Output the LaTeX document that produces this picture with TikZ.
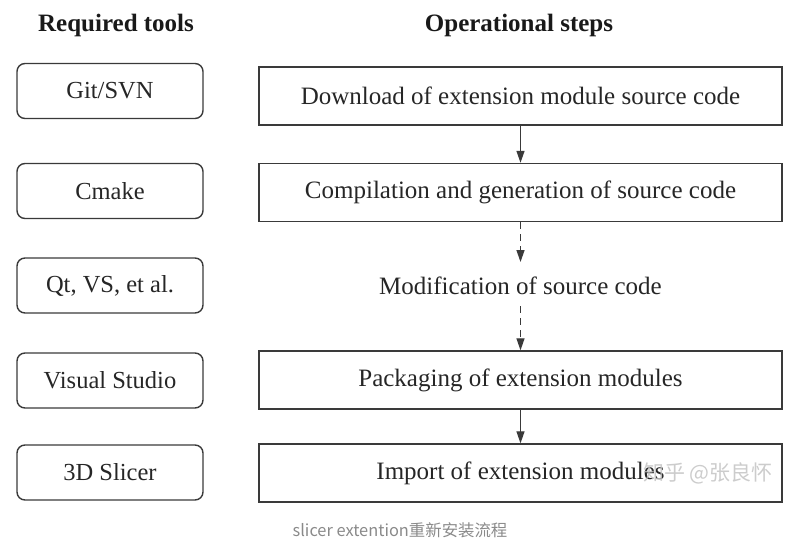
\documentclass[tikz,border=0pt]{standalone}
\usepackage{fontspec}
\setmainfont{Liberation Serif}
\newfontfamily\cjkfont{Noto Sans CJK SC}
\usetikzlibrary{arrows.meta}
\definecolor{linec}{HTML}{3A3A3A}
\definecolor{capc}{HTML}{8A8A8A}
\tikzset{
  toolbox/.style={draw=linec, line width=1.4pt, rounded corners=8pt, minimum width=186pt, minimum height=55pt, inner sep=0pt, font=\fontsize{24.5}{28}\selectfont, text=black!85},
  stepbox/.style={draw=linec, line width=1.4pt, minimum width=523pt, minimum height=58pt, inner sep=0pt, font=\fontsize{25}{28}\selectfont, text=black!85},
  heading/.style={font=\bfseries\fontsize{25}{28}\selectfont, text=black!90},
  flow/.style={draw=linec, line width=1.3pt, -{Triangle[length=12pt,width=8pt]}},
  dflow/.style={flow, dash pattern=on 7pt off 5pt}
}
\begin{document}
\begin{tikzpicture}[x=1pt,y=-1pt]
\useasboundingbox (0,0) rectangle (809,550);
\node[heading] (h1) at (116,25) {Required tools};
\node[heading] (h2) at (519,25) {Operational steps};
\node[toolbox] (t1) at (110,91) {Git/SVN};
\node[toolbox] (t2) at (110,191) {Cmake};
\node[toolbox] (t3) at (110,285.5) {Qt, VS, et al.};
\node[toolbox] (t4) at (110,380.5) {Visual Studio};
\node[toolbox] (t5) at (110,472.5) {3D Slicer};
\node[stepbox] (s1) at (520.5,96) {Download of extension module source code};
\node[stepbox] (s2) at (520.5,192.5) {Compilation and generation of source code};
\node[font=\fontsize{25}{28}\selectfont, text=black!85, inner sep=0pt] (s3) at (520.5,286) {Modification of source code};
\node[stepbox] (s4) at (520.5,380) {Packaging of extension modules};
\node[stepbox] (s5) at (520.5,473) {Import of extension modules};
\coordinate (m1) at (520.5,262);
\coordinate (m2) at (520.5,306);
\draw[flow] (s1.south) -- (s2.north);
\draw[dflow] (s2.south) -- (m1);
\draw[dflow] (m2) -- (s4.north);
\draw[flow] (s4.south) -- (s5.north);
\node[font=\cjkfont\fontsize{21}{24}\selectfont, text=black!25, opacity=0.8] (wm) at (708,473) {知乎 @张良怀};
\node[font=\cjkfont\fontsize{16.4}{19}\selectfont, text=capc] (cap) at (400,530) {slicer extention重新安装流程};
\end{tikzpicture}
\end{document}
